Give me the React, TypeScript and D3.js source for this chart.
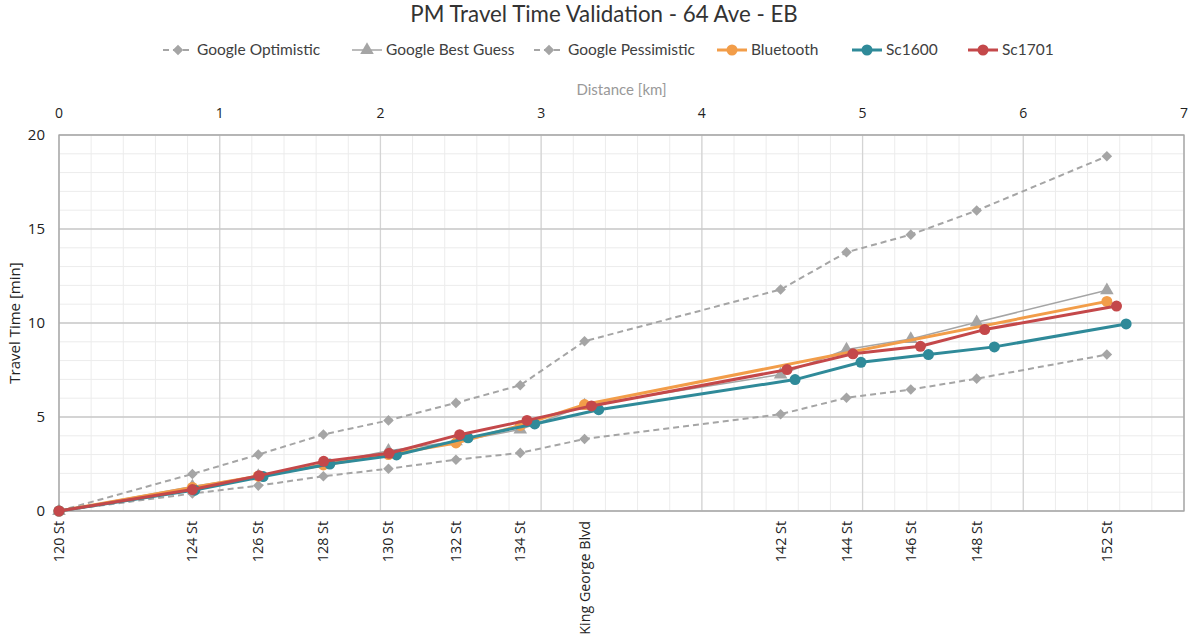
import React from "react";
import * as d3 from "d3";

// street positions along the corridor [km]
const streets = ["120 St", "124 St", "126 St", "128 St", "130 St", "132 St", "134 St", "King George Blvd", "142 St", "144 St", "146 St", "148 St", "152 St"];
const streetKm = [0, 0.83, 1.24, 1.645, 2.05, 2.47, 2.87, 3.27, 4.49, 4.9, 5.3, 5.71, 6.52];

// travel times [min]
const googleOptimistic = [0, 0.93, 1.35, 1.85, 2.25, 2.73, 3.09, 3.83, 5.15, 6.02, 6.46, 7.04, 8.32];
const googleBestGuess = [0, 1.3, 1.85, 2.5, 3.2, 3.7, 4.33, 5.6, 7.26, 8.59, 9.15, 10.04, 11.74];
const googlePessimistic = [0, 1.97, 3.0, 4.07, 4.82, 5.75, 6.69, 9.03, 11.78, 13.76, 14.7, 15.98, 18.87];

const bluetoothKm = [0, 0.83, 1.24, 1.645, 2.05, 2.47, 2.87, 3.27, 6.52];
const bluetooth = [0, 1.25, 1.85, 2.45, 3.0, 3.62, 4.55, 5.66, 11.15];

const sc1600Km = [0, 0.845, 1.27, 1.685, 2.1, 2.545, 2.96, 3.358, 4.58, 4.99, 5.41, 5.82, 6.64];
const sc1600 = [0, 1.11, 1.83, 2.5, 2.98, 3.89, 4.63, 5.39, 6.99, 7.91, 8.32, 8.73, 9.95];

const sc1701Km = [0, 0.83, 1.245, 1.647, 2.054, 2.493, 2.912, 3.313, 4.53, 4.94, 5.36, 5.76, 6.58];
const sc1701 = [0, 1.14, 1.88, 2.64, 3.07, 4.06, 4.82, 5.59, 7.52, 8.36, 8.76, 9.65, 10.9];

const distanceTicks = [0, 1, 2, 3, 4, 5, 6, 7];
const timeTicks = [0, 5, 10, 15, 20];

type Marker = "diamond" | "triangle" | "circle";
type Series = {
  name: string;
  km: number[];
  values: number[];
  color: string;
  width: number;
  dash?: string;
  marker: Marker;
};

const GREY = "#a5a5a5";

const series: Series[] = [
  { name: "Google Optimistic", km: streetKm, values: googleOptimistic, color: GREY, width: 2, dash: "6,4", marker: "diamond" },
  { name: "Google Best Guess", km: streetKm, values: googleBestGuess, color: GREY, width: 1.5, marker: "triangle" },
  { name: "Google Pessimistic", km: streetKm, values: googlePessimistic, color: GREY, width: 2, dash: "6,4", marker: "diamond" },
  { name: "Bluetooth", km: bluetoothKm, values: bluetooth, color: "#f29d49", width: 3, marker: "circle" },
  { name: "Sc1600", km: sc1600Km, values: sc1600, color: "#2f8a99", width: 3, marker: "circle" },
  { name: "Sc1701", km: sc1701Km, values: sc1701, color: "#c4484a", width: 3, marker: "circle" },
];

const legendX = [163, 352, 534, 717, 852, 968];

const margin = { left: 59, right: 1184, top: 135, bottom: 511 };

const MarkerShape = ({ type, x, y, color }: { type: Marker; x: number; y: number; color: string }) => {
  if (type === "circle") return <circle cx={x} cy={y} r={5.5} fill={color} />;
  if (type === "diamond")
    return <path d={d3.symbol(d3.symbolSquare, 56)() || ""} transform={`translate(${x},${y}) rotate(45)`} fill={color} />;
  return <path d={d3.symbol(d3.symbolTriangle, 80)() || ""} transform={`translate(${x},${y})`} fill={color} />;
};

export default function App() {
  const x = d3.scaleLinear().domain([0, 7]).range([margin.left, margin.right]);
  const y = d3.scaleLinear().domain([0, 20]).range([margin.bottom, margin.top]);

  const minorX = d3.range(0, 7.001, 0.2);
  const minorY = d3.range(0, 20.001, 1);

  const line = d3
    .line<[number, number]>()
    .x((d) => x(d[0]))
    .y((d) => y(d[1]));

  const font = "'Open Sans', sans-serif";
  const titleFont = "Lato, sans-serif";

  return (
    <svg width={1189} height={643} style={{ position: "absolute", left: 0, top: 0, background: "#fff" }}>
      <text x={604} y={22} textAnchor="middle" fontFamily={titleFont} fontSize={22.3} fill="#333">
        PM Travel Time Validation - 64 Ave - EB
      </text>

      {/* legend */}
      {series.map((s, i) => (
        <g key={s.name} transform={`translate(${legendX[i]},50)`}>
          <line x1={0} x2={30} y1={0} y2={0} stroke={s.color} strokeWidth={s.width} strokeDasharray={s.dash} />
          <MarkerShape type={s.marker} x={15} y={0} color={s.color} />
          <text x={34} y={5} fontFamily={titleFont} fontSize={15.5} fill="#404040">
            {s.name}
          </text>
        </g>
      ))}

      {/* grid */}
      {minorX.map((v) => (
        <line key={"mx" + v} x1={x(v)} x2={x(v)} y1={margin.top} y2={margin.bottom} stroke="#ececec" strokeWidth={1} />
      ))}
      {minorY.map((v) => (
        <line key={"my" + v} x1={margin.left} x2={margin.right} y1={y(v)} y2={y(v)} stroke="#ececec" strokeWidth={1} />
      ))}
      {distanceTicks.map((v) => (
        <line key={"gx" + v} x1={x(v)} x2={x(v)} y1={margin.top} y2={margin.bottom} stroke="#d4d4d4" strokeWidth={1.3} />
      ))}
      {timeTicks.map((v) => (
        <line key={"gy" + v} x1={margin.left} x2={margin.right} y1={y(v)} y2={y(v)} stroke="#c8c8c8" strokeWidth={1.3} />
      ))}
      <rect x={margin.left} y={margin.top} width={margin.right - margin.left} height={margin.bottom - margin.top} fill="none" stroke="#a6a6a6" strokeWidth={1.3} />

      {/* top distance axis */}
      <text x={x(3.5)} y={95} textAnchor="middle" fontFamily={titleFont} fontSize={15} fill="#999">
        Distance [km]
      </text>
      {distanceTicks.map((v) => (
        <text key={"tx" + v} x={x(v)} y={118} textAnchor="middle" fontFamily={font} fontSize={14} fill="#222">
          {v}
        </text>
      ))}

      {/* y axis */}
      {timeTicks.map((v) => (
        <text key={"ty" + v} x={45} y={y(v) + 5} textAnchor="end" fontFamily={font} fontSize={15} fill="#222">
          {v}
        </text>
      ))}
      <text transform={`translate(20,${y(10)}) rotate(-90)`} textAnchor="middle" fontFamily={font} fontSize={15} fill="#222">
        Travel Time [min]
      </text>

      {/* street labels */}
      {streets.map((s, i) => (
        <text
          key={s}
          transform={`translate(${x(streetKm[i]) + 5},${margin.bottom + 10}) rotate(-90)`}
          textAnchor="end"
          fontFamily={font}
          fontSize={14.3}
          fill="#222"
        >
          {s}
        </text>
      ))}

      {/* series */}
      {series.map((s) => {
        const pts = s.km.map((k, i) => [k, s.values[i]] as [number, number]);
        return (
          <g key={s.name}>
            <path d={line(pts) || ""} fill="none" stroke={s.color} strokeWidth={s.width} strokeDasharray={s.dash} strokeLinejoin="round" />
            {pts.map((p, i) => (
              <MarkerShape key={i} type={s.marker} x={x(p[0])} y={y(p[1])} color={s.color} />
            ))}
          </g>
        );
      })}
    </svg>
  );
}
